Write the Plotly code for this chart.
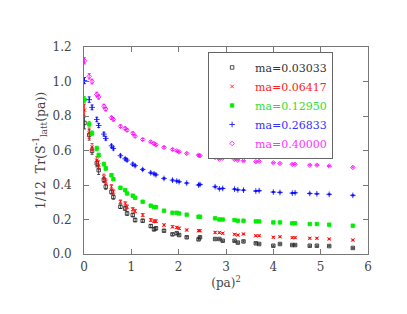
import plotly.graph_objects as go

x_pa2 = [0.01, 0.11, 0.17, 0.27, 0.31, 0.42, 0.46, 0.58, 0.62, 0.77,
         0.87, 0.91, 1.03, 1.08, 1.24, 1.41, 1.48, 1.52, 1.69, 1.87,
         1.96, 2.01, 2.17, 2.42, 2.45, 2.77, 2.86, 2.93, 3.18, 3.25,
         3.37, 3.63, 3.70, 4.00, 4.14, 4.40, 4.46, 4.77, 4.92, 5.18, 5.68]

y_03033 = [0.76, 0.69, 0.598, 0.525, 0.486, 0.43, 0.39, 0.36, 0.33, 0.274,
           0.264, 0.235, 0.226, 0.197, 0.193, 0.162, 0.143, 0.149, 0.135, 0.114,
           0.12, 0.11, 0.097, 0.085, 0.097, 0.087, 0.087, 0.077, 0.077, 0.066,
           0.073, 0.062, 0.058, 0.048, 0.058, 0.052, 0.052, 0.048, 0.048, 0.046, 0.035]
y_06417 = [0.834, 0.70, 0.62, 0.544, 0.515, 0.448, 0.42, 0.39, 0.36, 0.303,
           0.293, 0.274, 0.259, 0.249, 0.226, 0.197, 0.19, 0.19, 0.168, 0.158,
           0.154, 0.149, 0.139, 0.135, 0.135, 0.125, 0.124, 0.12, 0.114, 0.11,
           0.116, 0.106, 0.106, 0.097, 0.10, 0.095, 0.095, 0.091, 0.091, 0.087, 0.081]
y_12950 = [0.895, 0.753, 0.70, 0.612, 0.573, 0.521, 0.496, 0.457, 0.434, 0.384,
           0.37, 0.351, 0.338, 0.326, 0.303, 0.28, 0.272, 0.272, 0.251, 0.239,
           0.239, 0.235, 0.228, 0.216, 0.216, 0.207, 0.20, 0.20, 0.197, 0.193,
           0.193, 0.189, 0.189, 0.183, 0.183, 0.178, 0.178, 0.174, 0.174, 0.17, 0.164]
y_26833 = [1.005, 0.895, 0.85, 0.78, 0.745, 0.695, 0.67, 0.627, 0.612, 0.57,
           0.552, 0.544, 0.521, 0.512, 0.49, 0.471, 0.465, 0.459, 0.438, 0.428,
           0.423, 0.419, 0.411, 0.40, 0.403, 0.39, 0.378, 0.38, 0.376, 0.372,
           0.37, 0.365, 0.367, 0.359, 0.357, 0.353, 0.355, 0.351, 0.349, 0.346, 0.34]
y_40000 = [1.12, 1.03, 1.00, 0.925, 0.91, 0.857, 0.84, 0.79, 0.78, 0.74,
           0.728, 0.718, 0.70, 0.683, 0.664, 0.65, 0.64, 0.633, 0.618, 0.606,
           0.598, 0.592, 0.583, 0.573, 0.57, 0.56, 0.55, 0.556, 0.548, 0.544,
           0.54, 0.535, 0.537, 0.529, 0.525, 0.52, 0.52, 0.515, 0.515, 0.51, 0.502]

err_light = [0.018, 0.016, 0.014, 0.013, 0.012, 0.011, 0.010, 0.009, 0.009, 0.008,
             0.007, 0.007, 0.007, 0.006, 0.006, 0.005, 0.005, 0.005, 0.005, 0.005,
             0.004, 0.004, 0.004, 0.004, 0.004, 0.004, 0.003, 0.003, 0.003, 0.003,
             0.003, 0.003, 0.003, 0.003, 0.003, 0.003, 0.003, 0.003, 0.003, 0.003, 0.003]
err_heavy = [0.035, 0.03, 0.02, 0.02, 0.025, 0.015, 0.015, 0.012, 0.012, 0.01,
             0.01, 0.01, 0.01, 0.01, 0.008, 0.008, 0.008, 0.008, 0.006, 0.006,
             0.006, 0.006, 0.005, 0.005, 0.005, 0.005, 0.004, 0.004, 0.004, 0.004,
             0.004, 0.004, 0.004, 0.004, 0.004, 0.004, 0.004, 0.004, 0.004, 0.004, 0.004]

labels = ["ma=0.03033", "ma=0.06417", "ma=0.12950", "ma=0.26833", "ma=0.40000"]
series = [y_03033, y_06417, y_12950, y_26833, y_40000]
errors = [err_heavy, err_heavy, err_light, err_light, err_light]
colors = ["#222222", "#ff0000", "#00ee00", "#0000ff", "#ff00ff"]
text_colors = ["#333333", "#ff2222", "#33dd33", "#3333ff", "#ff33ff"]
symbols = ["square-open", "x-thin-open", "square", "cross-thin-open", "diamond-open"]
sizes = [3.5, 3.5, 3.5, 4, 3.5]

fig = go.Figure()
for lab, ys, er, c, tc, s, sz in zip(labels, series, errors, colors, text_colors, symbols, sizes):
    fig.add_trace(go.Scatter(
        x=x_pa2, y=ys, mode="markers",
        name=f"<span style='color:{tc}'>{lab}</span>",
        marker=dict(symbol=s, size=sz, color=c, line=dict(color=c, width=0.8)),
        error_y=dict(type="data", array=er, color=c, thickness=0.8, width=1.5),
    ))

axis_common = dict(
    showline=True, linecolor="#777777", linewidth=1, mirror="ticks",
    ticks="inside", ticklen=5, tickcolor="#777777", tickwidth=1,
    showgrid=False, zeroline=False,
    tickfont=dict(family="DejaVu Serif", size=12, color="#444444"),
)

fig.update_layout(
    width=407, height=314,
    margin=dict(l=76, r=47, t=39, b=68),
    paper_bgcolor="white", plot_bgcolor="white",
    font=dict(family="DejaVu Serif", size=12, color="#444444"),
    xaxis=dict(range=[0, 6], dtick=1, tick0=0, ticklabelstandoff=2,
               title=dict(text="(pa)<sup>2</sup>", standoff=2,
                          font=dict(family="DejaVu Serif", size=12)),
               **axis_common),
    yaxis=dict(range=[0, 1.2], dtick=0.2, tick0=0, tickformat=".1f",
               ticklabelstandoff=9,
               title=dict(text="1/12  Tr(S<sup>-1</sup><sub>latt</sub>(pa))", standoff=4,
                          font=dict(family="DejaVu Serif", size=12.5)),
               **axis_common),
    showlegend=True,
    legend=dict(x=0.437, y=0.976, xanchor="left", yanchor="top",
                bordercolor="#666666", borderwidth=1, bgcolor="white",
                font=dict(family="DejaVu Serif", size=11),
                tracegroupgap=0, itemsizing="trace",
                itemwidth=36),
)

fig.write_html("out.html")
